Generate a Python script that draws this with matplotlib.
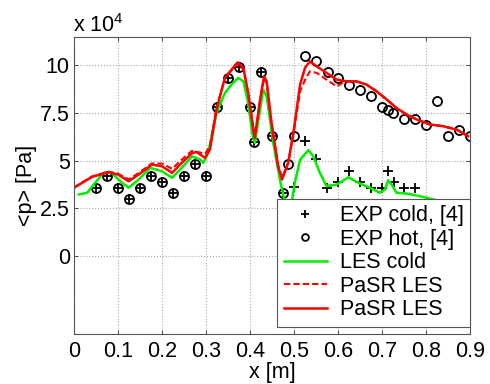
import numpy as np
import matplotlib
matplotlib.use("Agg")
import matplotlib.pyplot as plt

plt.rcParams['font.family'] = ['Liberation Sans', 'DejaVu Sans']
plt.rcParams['mathtext.default'] = 'regular'

# experimental data (pressure in units of 1e4 Pa)
x_common = [0.05, 0.075, 0.1, 0.125, 0.15, 0.175, 0.2, 0.225, 0.25, 0.275,
            0.3, 0.325, 0.35, 0.375, 0.4, 0.41, 0.425, 0.45, 0.475]
p_common = [3.58, 4.18, 3.58, 3.02, 3.58, 4.18, 3.89, 3.32, 4.18, 4.83,
            4.18, 7.78, 9.29, 9.86, 7.78, 5.97, 9.62, 6.30, 3.30]

x_cold = x_common + [0.5, 0.525, 0.55, 0.575, 0.6, 0.625, 0.65, 0.675, 0.7,
                     0.713, 0.727, 0.75, 0.775]
p_cold = p_common + [3.63, 6.0, 5.10, 3.57, 3.90, 4.48, 3.90, 3.55, 3.55,
                     4.48, 3.90, 3.58, 3.58]

x_hot = x_common + [0.486, 0.5, 0.525, 0.55, 0.577, 0.6, 0.625, 0.65, 0.675, 0.7,
                    0.713, 0.726, 0.75, 0.775, 0.8, 0.826, 0.851, 0.876, 0.9]
p_hot = p_common + [4.80, 6.30, 10.47, 10.17, 9.60, 9.29, 8.94, 8.70, 8.35, 7.78,
                    7.62, 7.48, 7.17, 7.17, 6.86, 8.09, 6.30, 6.58, 6.30]

# LES cold
x_les = [0.011, 0.03, 0.048, 0.067, 0.086, 0.105, 0.124, 0.147, 0.173, 0.2,
         0.223, 0.245, 0.268, 0.287, 0.294, 0.305, 0.324, 0.343, 0.358, 0.373,
         0.385, 0.396, 0.405, 0.411, 0.423, 0.43, 0.438, 0.453, 0.468, 0.478,
         0.489, 0.502, 0.514, 0.533, 0.544, 0.559, 0.574, 0.597, 0.624, 0.646,
         0.673, 0.695, 0.707, 0.714, 0.722, 0.733, 0.756, 0.786, 0.817, 0.847,
         0.877, 0.9]
p_les = [3.23, 3.32, 3.84, 4.36, 4.36, 3.92, 3.58, 4.01, 4.62, 4.44,
         4.10, 4.62, 5.22, 5.05, 4.88, 5.40, 7.48, 8.52, 8.96, 9.31,
         9.13, 8.00, 6.44, 5.92, 7.66, 8.70, 8.35, 5.92, 4.01, 2.97,
         2.00, 3.84, 5.05, 5.54, 5.22, 4.36, 3.66, 3.75, 4.13, 3.84,
         3.58, 3.32, 3.49, 3.97, 3.75, 3.32, 3.28, 3.14, 2.97, 2.79,
         2.79, 2.66]

# PaSR LES (solid)
x_pasr = [0.0, 0.041, 0.079, 0.1, 0.124, 0.147, 0.177, 0.2, 0.223, 0.245,
          0.268, 0.278, 0.298, 0.309, 0.324, 0.343, 0.358, 0.372, 0.385, 0.396,
          0.408, 0.411, 0.423, 0.432, 0.438, 0.449, 0.464, 0.473, 0.487, 0.499,
          0.514, 0.525, 0.536, 0.552, 0.574, 0.597, 0.62, 0.642, 0.665, 0.688,
          0.711, 0.733, 0.756, 0.779, 0.809, 0.839, 0.87, 0.896]
p_pasr = [3.58, 4.15, 4.39, 4.27, 3.92, 4.27, 4.79, 4.70, 4.36, 4.88,
          5.38, 5.45, 5.14, 5.57, 7.66, 9.31, 9.74, 10.12, 9.83, 8.52,
          6.61, 6.18, 8.18, 9.39, 9.13, 6.96, 4.70, 4.01, 4.88, 6.50,
          8.96, 9.83, 10.17, 9.91, 9.57, 9.22, 9.13, 9.13, 8.96, 8.61,
          8.18, 7.74, 7.40, 7.14, 6.88, 6.79, 6.61, 6.27]

# PaSR LES (dashed)
x_pasr2 = [0.0, 0.041, 0.079, 0.1, 0.124, 0.147, 0.177, 0.2, 0.223, 0.245,
           0.268, 0.29, 0.298, 0.309, 0.324, 0.343, 0.358, 0.372, 0.385, 0.396,
           0.408, 0.411, 0.423, 0.432, 0.438, 0.449, 0.464, 0.473, 0.487, 0.499,
           0.514, 0.525, 0.536, 0.552, 0.574, 0.597, 0.616, 0.642, 0.665, 0.688,
           0.711, 0.733, 0.756, 0.779, 0.809, 0.839, 0.87, 0.896]
p_pasr2 = [3.60, 4.17, 4.42, 4.32, 4.02, 4.35, 4.85, 4.84, 4.57, 5.05,
           5.50, 5.40, 5.35, 5.75, 7.75, 9.30, 9.70, 10.05, 9.75, 8.50,
           6.60, 6.25, 8.10, 9.30, 9.05, 6.96, 4.75, 4.10, 4.90, 6.40,
           8.61, 9.20, 9.65, 9.57, 9.22, 8.87, 9.13, 9.13, 8.96, 8.61,
           8.18, 7.74, 7.40, 7.14, 6.88, 6.79, 6.61, 6.27]

fs = 15.5

fig = plt.figure(figsize=(4.9, 3.84), dpi=100)
ax = fig.add_axes([0.151, 0.130, 0.808, 0.774])

ax.plot(x_cold, p_cold, 'k+', ms=7, mew=1.3, label='EXP cold, [4]')
ax.plot(x_hot, p_hot, 'ko', ms=6.5, mfc='none', mew=1.3, label='EXP hot, [4]')
ax.plot(x_les, p_les, color='#00ee00', lw=1.8, label='LES cold')
ax.plot(x_pasr2, p_pasr2, color='#ff0000', lw=1.5, ls='--', dashes=(3, 1.5), label='PaSR LES')
ax.plot(x_pasr, p_pasr, color='#ff0000', lw=1.8, label='PaSR LES')

ax.set_xlim(0, 0.9)
ax.set_ylim(-4.05, 11.45)
ax.set_xticks(np.arange(0, 0.91, 0.1))
ax.set_xticklabels(['0', '0.1', '0.2', '0.3', '0.4', '0.5', '0.6', '0.7', '0.8', '0.9'])
ax.set_yticks([0, 2.5, 5, 7.5, 10])
ax.set_yticklabels(['0', '2.5', '5', '7.5', '10'])
ax.tick_params(direction='in', length=3, width=0.6, labelsize=fs, top=True, right=True,
               colors='#333333', labelcolor='black')
ax.tick_params(axis='x', pad=5)
ax.tick_params(axis='y', pad=3)
ax.grid(True, ls=':', color='#aaaaaa', lw=0.8)
for s in ax.spines.values():
    s.set_color('#555555')
    s.set_linewidth(0.8)

ax.set_xlabel('x [m]', fontsize=fs, labelpad=0)
ax.set_ylabel('<p> [Pa]', fontsize=fs, labelpad=2)
fig.text(73 / 490, 1 - 32 / 384, 'x 10$^{4}$', fontsize=fs, ha='left', va='baseline')

leg = ax.legend(loc='lower right', bbox_to_anchor=(1.0, 0.024), borderaxespad=0,
                fontsize=fs, fancybox=False, framealpha=1, edgecolor='#555555',
                labelspacing=0.12, handlelength=2.0, handletextpad=0.6,
                borderpad=0.3, markerscale=0.75)
leg.get_frame().set_linewidth(0.8)

fig.savefig('out.png', dpi=100)
